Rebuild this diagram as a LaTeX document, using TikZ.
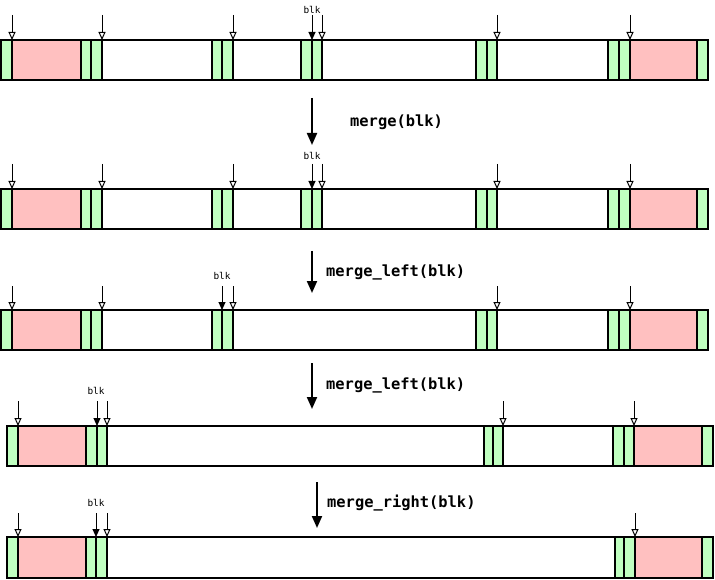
\documentclass[tikz,border=0pt]{standalone}
\usepackage{fontspec}
\setmonofont{DejaVu Sans Mono}
\usetikzlibrary{arrows.meta}
\definecolor{tagg}{RGB}{192,255,192}
\definecolor{datap}{RGB}{255,192,192}
\tikzset{
  seg/.style={draw=black,line width=2pt},
  ptropen/.style={line width=1pt,-{Triangle[open,length=8pt,width=7pt,fill=white]}},
  ptrblk/.style={line width=1pt,-{Triangle[length=8pt,width=7pt]}},
  bigarrow/.style={line width=2pt,-{Triangle[length=12pt,width=10pt]}},
  oplabel/.style={font=\ttfamily\bfseries\fontsize{15.4}{18}\selectfont,anchor=west,inner sep=0pt},
  blklabel/.style={font=\ttfamily\fontsize{9.4}{11}\selectfont,inner sep=0pt}
}
\newcommand\rowbar[3]{\foreach \a/\b/\c in {#3}{\draw[seg,fill=\c] (\a,#1) rectangle (\b,#2);}}
\newcommand\ptrset[4]{\foreach \x in {#3}{%
  \coordinate (#4s\x) at (\x,#1); \coordinate (#4e\x) at (\x,#2);
  \draw[ptropen] (#4s\x) -- (#4e\x);}}
\begin{document}
\begin{tikzpicture}[x=1pt,y=-1pt]
\useasboundingbox (0,0) rectangle (715,580);
% Row 1
\rowbar{40}{80}{1/12/tagg,12/81/datap,81/91/tagg,91/102/tagg,102/212/white,212/222/tagg,222/233/tagg,233/301/white,301/312/tagg,312/322/tagg,322/476/white,476/487/tagg,487/497/tagg,497/608/white,608/619/tagg,619/630/tagg,630/697/datap,697/708/tagg}
\ptrset{15}{40}{12,102,233,322,497,630}{ra}
\coordinate (bas) at (312,15); \coordinate (bae) at (312,40);
\draw[ptrblk] (bas) -- (bae);
\node[blklabel] (bla) at (312,10) {blk};
% Arrow 1
\coordinate (m1s) at (312,98); \coordinate (m1e) at (312,145);
\draw[bigarrow] (m1s) -- (m1e);
\node[oplabel] (op1) at (350,122) {merge(blk)};
% Row 2
\rowbar{189}{229}{1/12/tagg,12/81/datap,81/91/tagg,91/102/tagg,102/212/white,212/222/tagg,222/233/tagg,233/301/white,301/312/tagg,312/322/tagg,322/476/white,476/487/tagg,487/497/tagg,497/608/white,608/619/tagg,619/630/tagg,630/697/datap,697/708/tagg}
\ptrset{164}{189}{12,102,233,322,497,630}{rb}
\coordinate (bbs) at (312,164); \coordinate (bbe) at (312,189);
\draw[ptrblk] (bbs) -- (bbe);
\node[blklabel] (blb) at (312,156) {blk};
% Arrow 2
\coordinate (m2s) at (312,251); \coordinate (m2e) at (312,293);
\draw[bigarrow] (m2s) -- (m2e);
\node[oplabel] (op2) at (326,272) {merge\_left(blk)};
% Row 3
\rowbar{310}{350}{1/12/tagg,12/81/datap,81/91/tagg,91/102/tagg,102/212/white,212/222/tagg,222/233/tagg,233/476/white,476/487/tagg,487/497/tagg,497/608/white,608/619/tagg,619/630/tagg,630/697/datap,697/708/tagg}
\ptrset{286}{310}{12,102,233,497,630}{rc}
\coordinate (bcs) at (222,286); \coordinate (bce) at (222,310);
\draw[ptrblk] (bcs) -- (bce);
\node[blklabel] (blc) at (222,276) {blk};
% Arrow 3
\coordinate (m3s) at (312,363); \coordinate (m3e) at (312,409);
\draw[bigarrow] (m3s) -- (m3e);
\node[oplabel] (op3) at (326,385) {merge\_left(blk)};
% Row 4
\rowbar{426}{466}{7/18/tagg,18/86/datap,86/97/tagg,97/107/tagg,107/484/white,484/493/tagg,493/503/tagg,503/613/white,613/624/tagg,624/634/tagg,634/702/datap,702/713/tagg}
\ptrset{401}{426}{18,107,503,634}{rd}
\coordinate (bds) at (97,401); \coordinate (bde) at (97,426);
\draw[ptrblk] (bds) -- (bde);
\node[blklabel] (bld) at (96,391) {blk};
% Arrow 4
\coordinate (m4s) at (317,482); \coordinate (m4e) at (317,528);
\draw[bigarrow] (m4s) -- (m4e);
\node[oplabel] (op4) at (327,503) {merge\_right(blk)};
% Row 5
\rowbar{537}{578}{7/18/tagg,18/86/datap,86/96/tagg,96/107/tagg,107/615/white,615/624/tagg,624/635/tagg,635/702/datap,702/713/tagg}
\ptrset{513}{537}{18,107,635}{re}
\coordinate (bes) at (96,513); \coordinate (bee) at (96,537);
\draw[ptrblk] (bes) -- (bee);
\node[blklabel] (ble) at (96,503) {blk};
\end{tikzpicture}
\end{document}
